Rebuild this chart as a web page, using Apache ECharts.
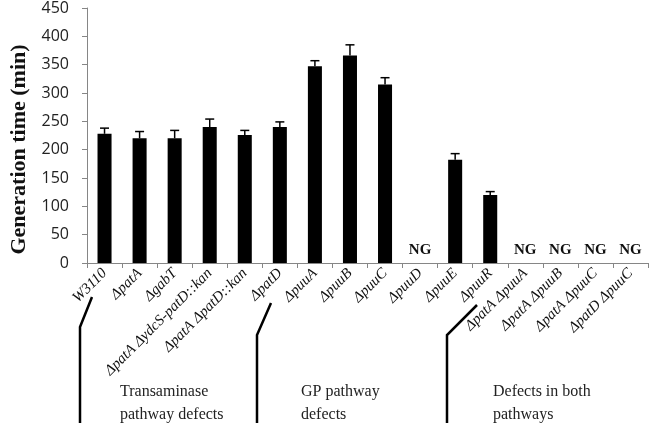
<!DOCTYPE html>
<html>
<head>
<meta charset="utf-8">
<script src="https://cdn.jsdelivr.net/npm/echarts@6/dist/echarts.min.js"></script>
<style>
  html, body { margin: 0; padding: 0; background: #fff; }
  #chart { width: 650px; height: 423px; }
</style>
</head>
<body>
<div id="chart"></div>
<script>
// strains on the x axis
const strains = [
  'W3110', 'ΔpatA', 'ΔgabT', 'ΔpatA ΔydcS-patD::kan', 'ΔpatA ΔpatD::kan',
  'ΔpatD', 'ΔpuuA', 'ΔpuuB', 'ΔpuuC', 'ΔpuuD', 'ΔpuuE', 'ΔpuuR',
  'ΔpatA ΔpuuA', 'ΔpatA ΔpuuB', 'ΔpatA ΔpuuC', 'ΔpatD ΔpuuC'
]
// generation time (min), null = no growth (NG)
const genTime = [228, 220, 220, 240, 226, 240, 347, 366, 315, null, 182, 120, null, null, null, null]
// upper error (min)
const genErr = [10, 12, 14, 14, 8, 9, 10, 19, 12, null, 11, 6, null, null, null, null]
const yTicks = { min: 0, max: 450, step: 50 }

const chart = echarts.init(document.getElementById('chart'))

const serif = 'Liberation Serif'
const axisGray = '#868686'

const option = {
  animation: false,
  backgroundColor: '#fff',
  grid: { left: 71, right: 2, top: 6, bottom: 160 },
  xAxis: {
    type: 'category',
    data: strains,
    axisLine: { lineStyle: { color: axisGray, width: 1 } },
    axisTick: { show: true, length: 5, lineStyle: { color: axisGray } },
    axisLabel: {
      interval: 0,
      rotate: 45,
      margin: 8,
      fontFamily: serif,
      fontStyle: 'italic',
      fontSize: 15,
      color: '#111'
    }
  },
  yAxis: {
    type: 'value',
    min: yTicks.min,
    max: yTicks.max,
    interval: yTicks.step,
    name: 'Generation time (min)',
    nameLocation: 'middle',
    nameGap: 57,
    nameTextStyle: { fontFamily: serif, fontWeight: 'bold', fontSize: 22, color: '#111', padding: [0, 28, 0, 0] },
    axisLine: { show: true, lineStyle: { color: axisGray, width: 1 } },
    axisTick: { show: true, length: 5, lineStyle: { color: axisGray } },
    splitLine: { show: false },
    axisLabel: { fontFamily: 'Open Sans', fontSize: 16, color: '#222', margin: 18 }
  },
  series: [
    {
      type: 'bar',
      barWidth: '40%',
      itemStyle: { color: '#000' },
      data: genTime
    },
    {
      // NG markers for strains that did not grow
      type: 'bar',
      barGap: '-100%',
      barWidth: '40%',
      itemStyle: { color: 'transparent' },
      data: genTime.map(v => (v == null ? 0 : '-')),
      label: {
        show: true,
        position: 'top',
        distance: 5,
        formatter: 'NG',
        fontFamily: serif,
        fontWeight: 'bold',
        fontSize: 15,
        color: '#111'
      }
    },
    {
      type: 'custom',
      data: genTime.map((v, i) => (v == null ? null : [i, v, v + genErr[i]])).filter(d => d),
      renderItem: (params, api) => {
        const base = api.coord([api.value(0), api.value(1)])
        const top = api.coord([api.value(0), api.value(2)])
        const cap = 4.5
        return {
          type: 'group',
          children: [
            { type: 'line', shape: { x1: base[0], y1: base[1], x2: top[0], y2: top[1] }, style: { stroke: '#000', lineWidth: 1.5 } },
            { type: 'line', shape: { x1: top[0] - cap, y1: top[1], x2: top[0] + cap, y2: top[1] }, style: { stroke: '#000', lineWidth: 1.5 } }
          ]
        }
      },
      z: 3
    }
  ],
  graphic: [
    { type: 'polyline', shape: { points: [[92, 297], [80, 327], [80, 423]] }, style: { stroke: '#000', lineWidth: 2.5, fill: null } },
    { type: 'polyline', shape: { points: [[271, 303], [257, 335], [257, 423]] }, style: { stroke: '#000', lineWidth: 2.5, fill: null } },
    { type: 'polyline', shape: { points: [[477, 305], [447, 335], [447, 423]] }, style: { stroke: '#000', lineWidth: 2.5, fill: null } },
    { type: 'text', left: 120, top: 380, style: { text: 'Transaminase\npathway defects', fontFamily: serif, fontSize: 16, lineHeight: 23, fill: '#222' } },
    { type: 'text', left: 301, top: 380, style: { text: 'GP pathway\ndefects', fontFamily: serif, fontSize: 16, lineHeight: 23, fill: '#222' } },
    { type: 'text', left: 493, top: 380, style: { text: 'Defects in both\npathways', fontFamily: serif, fontSize: 16, lineHeight: 23, fill: '#222' } }
  ]
}

chart.setOption(option)
</script>
</body>
</html>
